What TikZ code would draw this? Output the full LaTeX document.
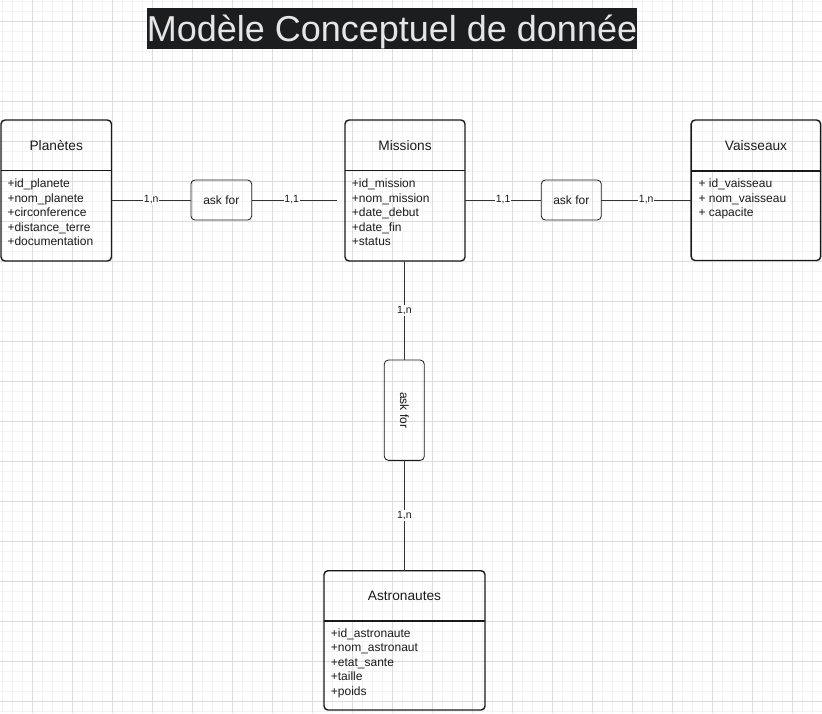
\documentclass[tikz,border=0pt]{standalone}
\usepackage{fontspec}
\usepackage{graphicx}
\setmainfont{Liberation Sans}
\definecolor{minorgrid}{HTML}{F3F3F3}
\definecolor{majorgrid}{HTML}{DDDDDD}
\definecolor{titlebg}{HTML}{1C1D1F}
\definecolor{titlefg}{HTML}{E6E6E6}
\definecolor{ink}{HTML}{1A1A1A}
\definecolor{wire}{HTML}{333333}
\begin{document}
\begin{tikzpicture}[x=1pt,y=-1pt,
  entity/.style={draw=ink, line width=1.4pt, rounded corners=4pt, inner sep=0pt, outer sep=0pt},
  divider/.style={draw=ink, line width=1.4pt},
  enttitle/.style={font=\fontsize{13.7}{16}\selectfont, text=ink, anchor=base, inner sep=0pt},
  attr/.style={font=\fontsize{12}{14}\selectfont, text=ink, anchor=base west, inner sep=0pt},
  relbox/.style={draw=ink, line width=0.8pt, rounded corners=4pt, font=\fontsize{12}{14}\selectfont, text=ink, inner sep=0pt, outer sep=0pt},
  wirestyle/.style={draw=wire, line width=0.8pt},
  card/.style={fill=white, font=\fontsize{10.5}{12}\selectfont, text=ink, inner sep=0.8pt},
]
\useasboundingbox (0,0) rectangle (822,713);
% grid
\foreach \x in {2,12,...,822} \draw[minorgrid, line width=0.8pt] (\x,0) -- (\x,713);
\foreach \y in {1,11,...,711} \draw[minorgrid, line width=0.8pt] (0,\y) -- (822,\y);
\foreach \x in {32,72,...,812} \draw[majorgrid, line width=0.8pt] (\x,0) -- (\x,713);
\foreach \y in {21,61,...,701} \draw[majorgrid, line width=0.8pt] (0,\y) -- (822,\y);

% title
\node[fill=titlebg, minimum width=489.4pt, minimum height=40.7pt, inner sep=0pt] (titlebox) at (392,28.65) {};
\node[anchor=base, text=titlefg, font=\fontsize{36}{40}\selectfont, inner sep=0pt] (title) at (392,41.7) {Modèle Conceptuel de donnée};

% entities
\node[entity, minimum width=110.5pt, minimum height=141pt] (pl) at (56.25,190.5) {};
\draw[divider] (pl.west |- 0,170.5) -- (pl.east |- 0,170.5);
\node[enttitle] (pl-t) at (56.25,150) {Planètes};
\foreach \t [count=\i] in {+id\_planete,+nom\_planete,+circonference,+distance\_terre,+documentation}
  \node[attr] (pl-a\i) at (7.3,{187.5+14.6*(\i-1)}) {\t};

\node[entity, minimum width=120pt, minimum height=141pt] (mi) at (405,190.5) {};
\draw[divider] (mi.west |- 0,170.5) -- (mi.east |- 0,170.5);
\node[enttitle] (mi-t) at (405,150) {Missions};
\foreach \t [count=\i] in {+id\_mission,+nom\_mission,+date\_debut,+date\_fin,+status}
  \node[attr] (mi-a\i) at (351.7,{187.5+14.6*(\i-1)}) {\t};

\node[entity, minimum width=129.5pt, minimum height=140.5pt] (va) at (755.9,190.25) {};
\draw[divider] (va.west |- 0,171) -- (va.east |- 0,171);
\node[enttitle] (va-t) at (756,150) {Vaisseaux};
\foreach \t [count=\i] in {+ id\_vaisseau,+ nom\_vaisseau,+ capacite}
  \node[attr] (va-a\i) at (698.3,{187.5+14.6*(\i-1)}) {\t};

\node[entity, minimum width=161pt, minimum height=139.3pt] (as) at (404.5,640.35) {};
\draw[divider] (as.west |- 0,621) -- (as.east |- 0,621);
\node[enttitle] (as-t) at (404.5,600) {Astronautes};
\foreach \t [count=\i] in {+id\_astronaute,+nom\_astronaut,+etat\_sante,+taille,+poids}
  \node[attr] (as-a\i) at (330.7,{637+14.6*(\i-1)}) {\t};

% relationships
\node[relbox, minimum width=60.7pt, minimum height=40pt] (askL) at (221.3,200) {ask for};
\node[relbox, minimum width=60pt, minimum height=40pt] (askR) at (571.3,200) {ask for};
\node[relbox, minimum width=40pt, minimum height=100.3pt] (askV) at (404.3,410.2) {\rotatebox{-90}{ask for}};
\coordinate (mL) at (337,200);

% connectors
\draw[wirestyle] (askL.west -| pl.east) -- node[card] (c1) {1,n} (askL.west);
\draw[wirestyle] (askL.east) -- node[card, pos=0.47] (c2) {1,1} (mL);
\draw[wirestyle] (askR.west -| mi.east) -- node[card] (c3) {1,1} (askR.west);
\draw[wirestyle] (askR.east) -- node[card] (c4) {1,n} (askR.east -| va.west);
\draw[wirestyle] (askV.north |- mi.south) -- node[card] (c5) {1,n} (askV.north);
\draw[wirestyle] (askV.south) -- node[card] (c6) {1,n} (askV.south |- as.north);
\end{tikzpicture}
\end{document}
